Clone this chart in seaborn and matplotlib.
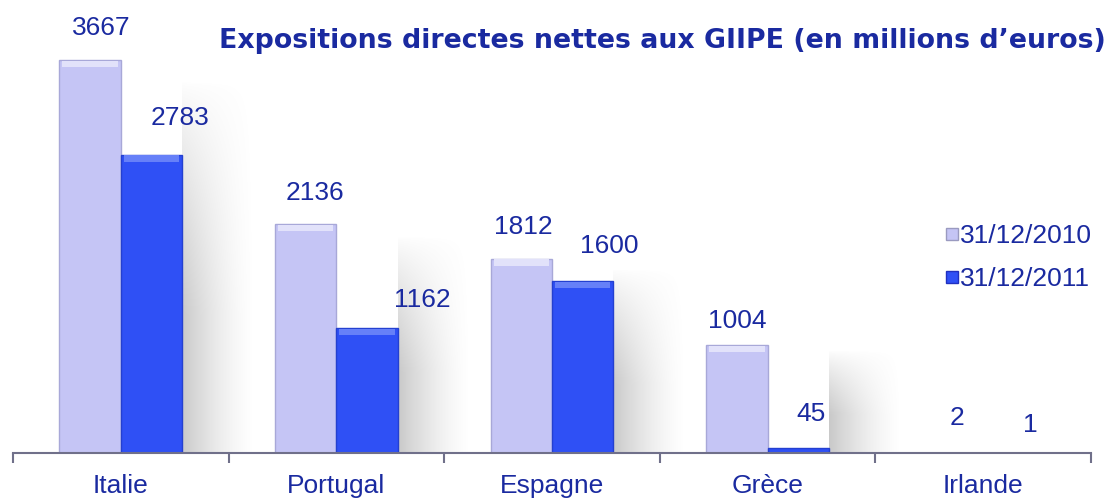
import numpy as np
import pandas as pd
import matplotlib
matplotlib.use("Agg")
import matplotlib.pyplot as plt
import seaborn as sns
from matplotlib.lines import Line2D

categories = ["Italie", "Portugal", "Espagne", "Grèce", "Irlande"]
series_names = ["31/12/2010", "31/12/2011"]
values_2010 = [3667, 2136, 1812, 1004, 2]
values_2011 = [2783, 1162, 1600, 45, 1]
title = "Expositions directes nettes aux GIIPE (en millions d\u2019euros)"

# hand placed label offsets (pixels) as in the original slide
label_dx_2010 = [11, 9, 2, 0, 5]
label_dy_2010 = [32, 31, 32, 24, 35]
label_dx_2011 = [28, 55, 27, 13, 16]
label_dy_2011 = [37, 28, 35, 34, 28]

light = "#c5c5f5"
light_hi = "#e2e2fa"
dark = "#2f50f5"
dark_hi = "#6680f8"
txt = "#1a2aa0"

sns.set_theme(style="white")
plt.rcParams["font.family"] = ["Liberation Sans", "DejaVu Sans"]

df = pd.DataFrame({
    "pays": categories * 2,
    "date": [series_names[0]] * len(categories) + [series_names[1]] * len(categories),
    "val": values_2010 + values_2011,
})

fig = plt.figure(figsize=(11.12, 4.99), dpi=100)
ax = fig.add_axes([13 / 1112, 46 / 499, 1078 / 1112, 453 / 499])

# soft shadows to the right of each group
bw = 0.285
for i, (a, b) in enumerate(zip(values_2010, values_2011)):
    h = max(a, b) * 0.95
    if h < 50:
        continue
    nx, ny = 80, 80
    gx = np.linspace(1, 0, nx) ** 1.5
    gy = np.clip(np.linspace(0, 1.6, ny), 0, 1) ** 0.8
    alpha = np.outer(gy, gx) * 0.42
    img = np.zeros((ny, nx, 4))
    img[..., :3] = 0.5
    img[..., 3] = alpha
    ax.imshow(img, extent=(i + bw, i + bw + 0.34, 0, h), origin="upper",
              aspect="auto", zorder=0.5, interpolation="bilinear")

sns.barplot(data=df, x="pays", y="val", hue="date", order=categories,
            hue_order=series_names, palette=[light, dark], width=0.57,
            saturation=1, ax=ax, zorder=2, legend=False)

hi_h = 65  # bevel highlight band height in data units
for k, cont in enumerate(list(ax.containers)):
    vals = values_2010 if k == 0 else values_2011
    dxs = label_dx_2010 if k == 0 else label_dx_2011
    dys = label_dy_2010 if k == 0 else label_dy_2011
    for rect, v, dx, dy in zip(cont, vals, dxs, dys):
        rect.set_edgecolor("#a8a8d8" if k == 0 else "#2440d0")
        rect.set_linewidth(1.0)
        x0, w = rect.get_x(), rect.get_width()
        if v > 3 * hi_h:
            ax.bar(x0 + w / 2, hi_h * 0.9, width=w * 0.9, bottom=v - hi_h,
                   color=light_hi if k == 0 else dark_hi, zorder=2.5,
                   linewidth=0)
        ax.annotate(str(v), (x0 + w / 2, v), xytext=(dx * 0.72, dy * 0.72),
                    textcoords="offset points", ha="center", va="center",
                    fontsize=19, color=txt, zorder=3)

ax.set_xlim(-0.5, 4.5)
ax.set_ylim(0, 4226)
ax.set_yticks([])
ax.set_xlabel("")
ax.set_ylabel("")
for s in ["top", "left", "right"]:
    ax.spines[s].set_visible(False)
ax.spines["bottom"].set_color("#70708a")
ax.spines["bottom"].set_linewidth(1.5)
ax.set_xticks(range(len(categories)))
ax.set_xticklabels(categories, fontsize=19, color=txt)
ax.tick_params(axis="x", which="major", length=0, pad=15)
ax.set_xticks(np.arange(-0.5, len(categories), 1.0), minor=True)
ax.tick_params(axis="x", which="minor", length=7, width=1.5, color="#70708a",
               direction="out", bottom=True)
ax.set_facecolor("white")

fig.text(0.994, 0.918, title, ha="right", va="center", fontsize=19.3,
         fontweight="bold", color=txt, family=["DejaVu Sans"])

handles = [Line2D([], [], marker="s", ls="", markersize=8, markerfacecolor=c,
                  markeredgecolor=e)
           for c, e in [(light, "#9a9ac0"), (dark, "#2030c0")]]
leg = fig.legend(handles, series_names, loc="center left",
                 bbox_to_anchor=(0.851, 0.484), frameon=False, fontsize=19,
                 handlelength=0.45, handletextpad=0.05, labelspacing=0.72,
                 borderaxespad=0, borderpad=0)
for t in leg.get_texts():
    t.set_color(txt)

fig.savefig("out.png", dpi=100)
